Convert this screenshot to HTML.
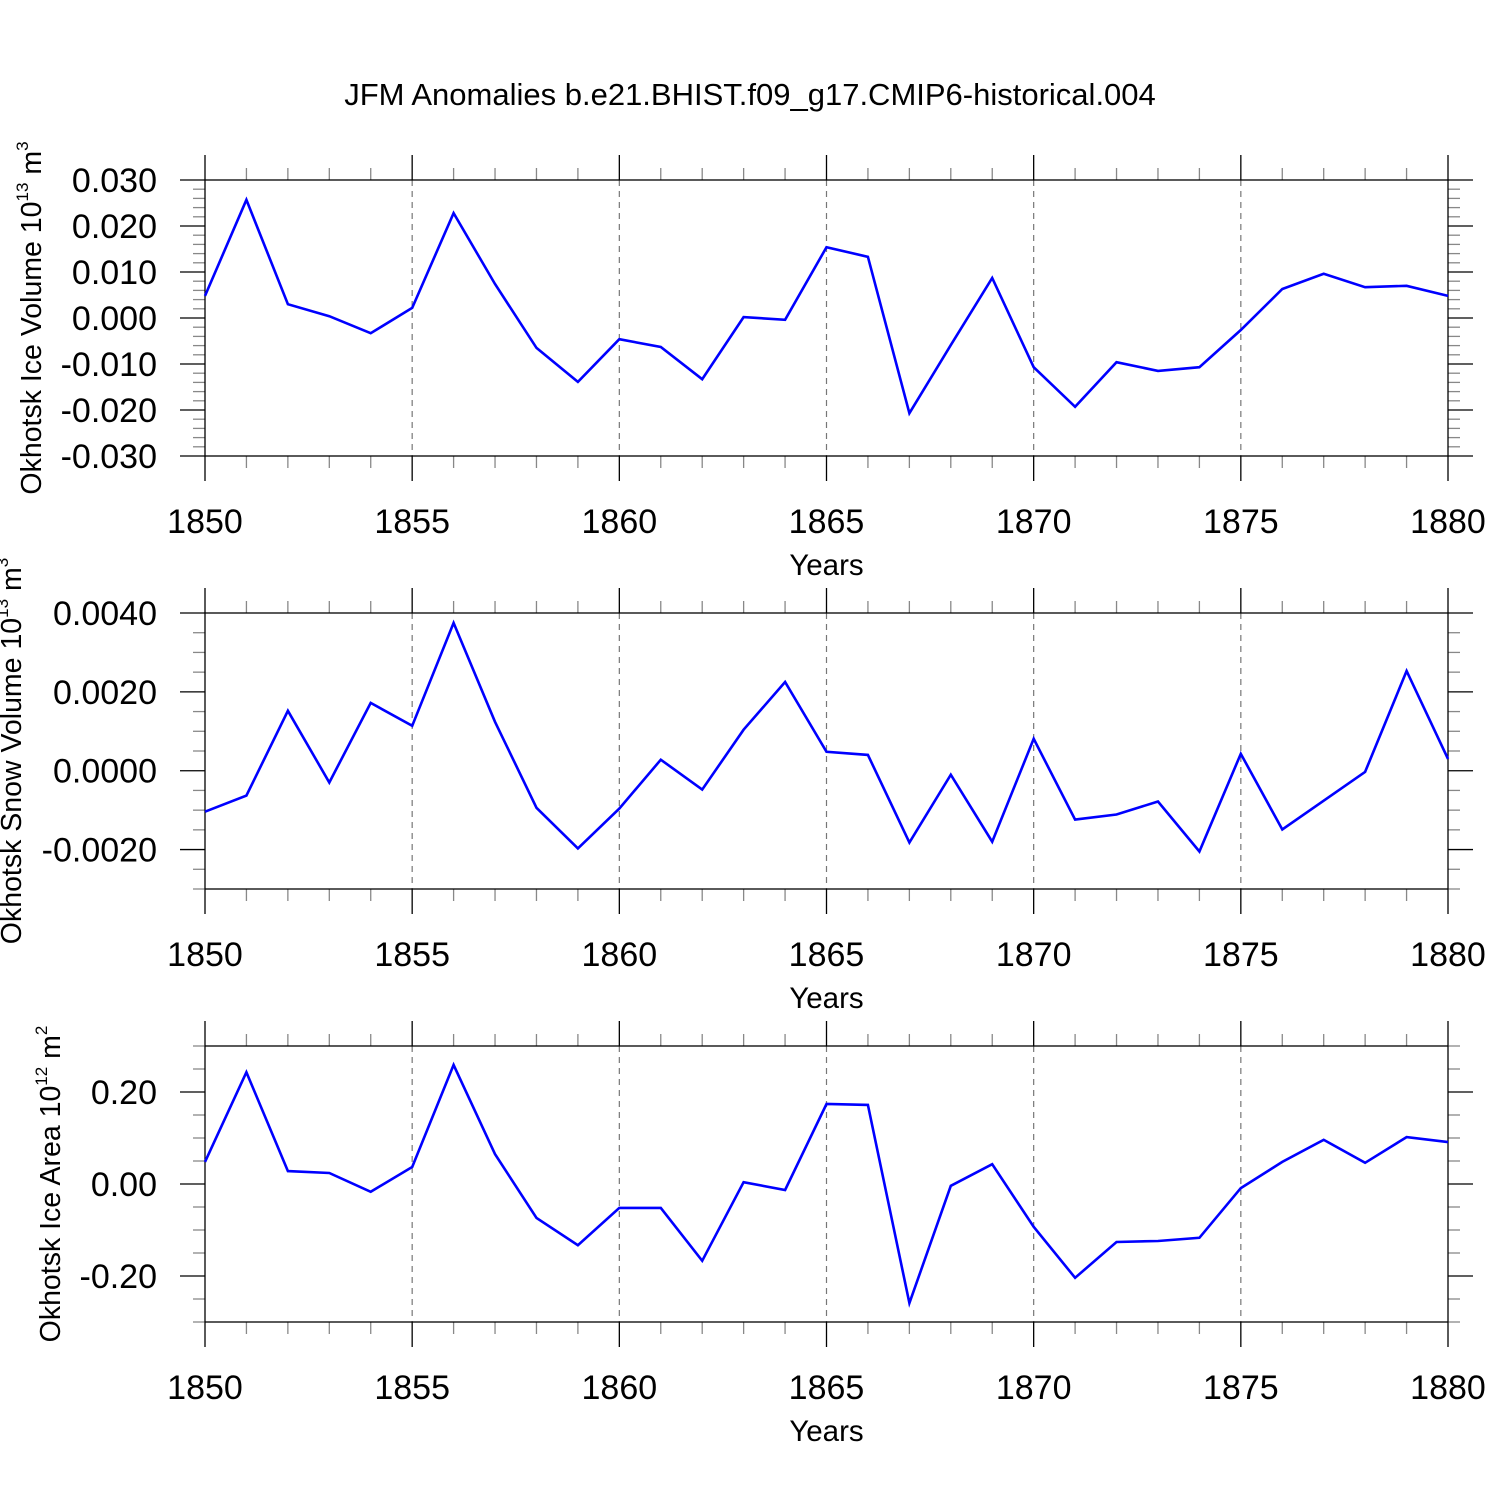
<!DOCTYPE html>
<html><head><meta charset="utf-8"><style>
body{margin:0;background:#fff}
svg{font-family:"Liberation Sans",sans-serif}
</style></head><body>
<svg id="c" width="1500" height="1500" viewBox="0 0 1500 1500">
<text x="750" y="105" font-size="31" text-anchor="middle">JFM Anomalies b.e21.BHIST.f09_g17.CMIP6-historical.004</text>
</svg>
<script>
const years = [1850,1851,1852,1853,1854,1855,1856,1857,1858,1859,1860,1861,1862,1863,1864,1865,1866,1867,1868,1869,1870,1871,1872,1873,1874,1875,1876,1877,1878,1879,1880];
const iceVolume = [0.0048,0.0257,0.003,0.0004,-0.0033,0.0022,0.0228,0.0074,-0.0065,-0.0139,-0.0046,-0.0063,-0.0133,0.0002,-0.0004,0.0154,0.0133,-0.0207,-0.0059,0.0087,-0.0107,-0.0193,-0.0096,-0.0115,-0.0107,-0.0026,0.0063,0.0096,0.0067,0.007,0.0048];
const snowVolume = [-0.00104,-0.00063,0.00152,-0.0003,0.00172,0.00114,0.00375,0.00124,-0.00094,-0.00197,-0.00096,0.00028,-0.00048,0.00104,0.00225,0.00048,0.0004,-0.00182,-0.0001,-0.0018,0.00081,-0.00124,-0.00111,-0.00078,-0.00205,0.00043,-0.00149,-0.00076,-0.00003,0.00253,0.0003];
const iceArea = [0.048,0.243,0.028,0.024,-0.017,0.037,0.259,0.065,-0.074,-0.133,-0.052,-0.052,-0.167,0.004,-0.013,0.174,0.172,-0.259,-0.004,0.043,-0.093,-0.204,-0.126,-0.124,-0.117,-0.009,0.048,0.096,0.046,0.102,0.091];
const xTickLabels = ["1850","1855","1860","1865","1870","1875","1880"];
const ticks1 = ["0.030","0.020","0.010","0.000","-0.010","-0.020","-0.030"];
const ticks2 = ["0.0040","0.0020","0.0000","-0.0020"];
const ticks3 = ["0.20","0.00","-0.20"];

const svg = document.getElementById('c');
const NS = 'http://www.w3.org/2000/svg';
function mk(tag, attrs, parent){const e=document.createElementNS(NS,tag);for(const k in attrs)e.setAttribute(k,attrs[k]);(parent||svg).appendChild(e);return e;}
const X0=205,X1=1448;
function xs(yr){return X0+(yr-1850)/30*(X1-X0);}

function panel(top, ymin, ymax, majStep, minStep, tickLabels, data, ylabelMain, ylabelSup, ylabelX, ylabelUnit, key){
  const bot = top+276;
  const ys = v => bot-(v-ymin)/(ymax-ymin)*276;
  const g = mk('g',{});
  
  
  for(let yr=1855; yr<1880; yr+=5){
    const l=mk('line',{x1:xs(yr),x2:xs(yr),y1:top,y2:bot,stroke:'#777','stroke-width':1.2,'stroke-dasharray':'6 5'},g);
    
    
  }
  for(let yr=1850; yr<=1880; yr++){
    const len = yr%5===0?25:12;
    const col = yr%5===0?'#000':'#888';
    mk('line',{x1:xs(yr),x2:xs(yr),y1:top-len,y2:top,stroke:col,'stroke-width':1.3},g);
    mk('line',{x1:xs(yr),x2:xs(yr),y1:bot,y2:bot+len,stroke:col,'stroke-width':1.3},g);
  }
  const eps=1e-9;
  for(let v=Math.ceil((ymin-eps)/minStep)*minStep; v<=ymax+eps; v+=minStep){
    const isMaj = Math.abs(v/majStep-Math.round(v/majStep))<1e-6;
    const len = isMaj?25:12, col=isMaj?'#000':'#888';
    const y=ys(v);
    mk('line',{x1:X0-len,x2:X0,y1:y,y2:y,stroke:col,'stroke-width':1.3},g);
    mk('line',{x1:X1,x2:X1+len,y1:y,y2:y,stroke:col,'stroke-width':1.3},g);
  }
  const fr=mk('rect',{x:X0,y:top,width:X1-X0,height:276,fill:'none',stroke:'#000','stroke-width':1.3},g);
  
  
  tickLabels.forEach(t=>{
    const tx=mk('text',{x:157,y:ys(parseFloat(t))+12,'font-size':34,'text-anchor':'end'},g);
    tx.textContent=t;
    
    
  });
  xTickLabels.forEach(t=>{
    const tx=mk('text',{x:xs(+t),y:bot+77,'font-size':34,'text-anchor':'middle'},g);
    tx.textContent=t;
    
    
  });
  const xt=mk('text',{x:(X0+X1)/2,y:bot+119,'font-size':29.5,'text-anchor':'middle'},g);
  xt.textContent='Years';
  
  
  const cy=top+138;
  const yl=mk('text',{x:0,y:0,'font-size':28.5,'text-anchor':'middle',transform:`translate(${ylabelX},${cy}) rotate(-90)`},g);
  
  
  const t1=document.createElementNS(NS,'tspan');t1.textContent=ylabelMain+' 10';yl.appendChild(t1);
  const t2=document.createElementNS(NS,'tspan');t2.setAttribute('font-size','17');t2.setAttribute('dy','-13');t2.textContent=ylabelSup;yl.appendChild(t2);
  const t3=document.createElementNS(NS,'tspan');t3.setAttribute('dy','13');t3.textContent=' m';yl.appendChild(t3);
  const t4=document.createElementNS(NS,'tspan');t4.setAttribute('font-size','17');t4.setAttribute('dy','-13');t4.textContent=ylabelUnit;yl.appendChild(t4);
  const pts=years.map((yr,i)=>xs(yr).toFixed(1)+','+ys(data[i]).toFixed(1)).join(' ');
  const pl=mk('polyline',{points:pts,fill:'none',stroke:'#0000ff','stroke-width':2.6,'stroke-linejoin':'miter'},g);
  
  
}
panel(180,-0.030,0.030,0.010,0.002,ticks1,iceVolume,'Okhotsk Ice Volume','13',41,'3','ice-volume');
panel(613,-0.0030,0.0040,0.0020,0.0005,ticks2,snowVolume,'Okhotsk Snow Volume','13',21,'3','snow-volume');
panel(1046,-0.30,0.30,0.20,0.05,ticks3,iceArea,'Okhotsk Ice Area','12',60,'2','ice-area');
</script>
</body></html>
